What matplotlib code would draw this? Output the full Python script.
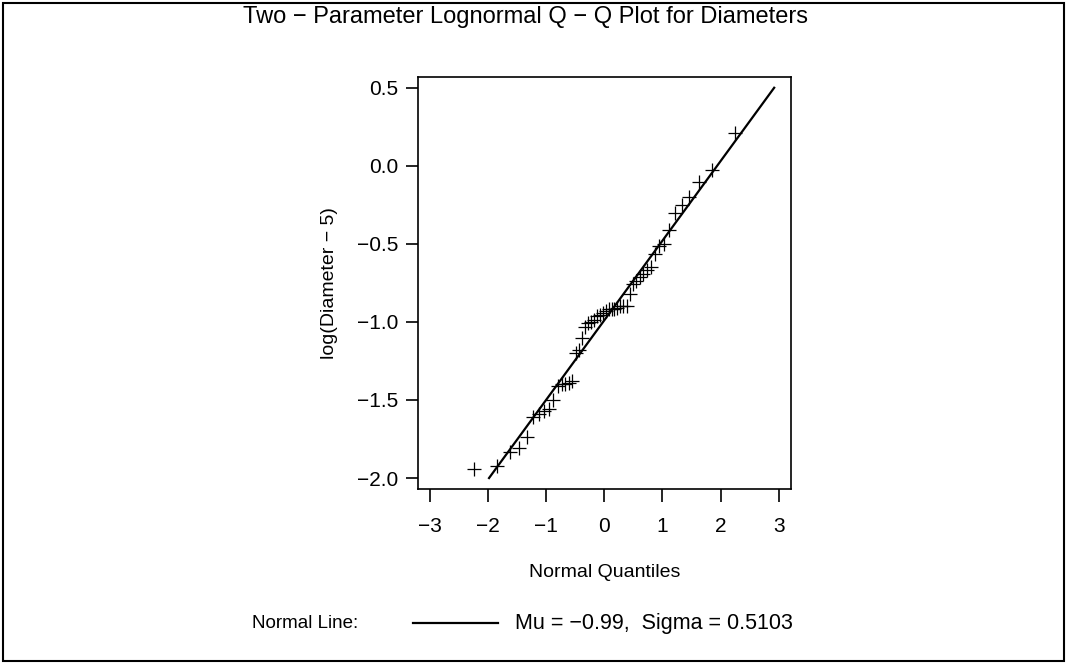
"""Two-parameter lognormal Q-Q plot for diameters."""

import matplotlib

matplotlib.use("Agg")
import matplotlib.pyplot as plt
from matplotlib.patches import Rectangle

plt.rcParams["font.family"] = ["Liberation Sans", "DejaVu Sans"]

# normal quantiles (n = 50) and sorted log(Diameter - 5)
quantiles = [
    -2.240, -1.848, -1.624, -1.460, -1.328, -1.216, -1.118, -1.030, -0.948, -0.872,
    -0.802, -0.734, -0.670, -0.609, -0.550, -0.493, -0.437, -0.383, -0.330, -0.278,
    -0.227, -0.176, -0.125, -0.075, -0.025, 0.025, 0.075, 0.125, 0.176, 0.227,
    0.278, 0.330, 0.383, 0.437, 0.493, 0.550, 0.609, 0.670, 0.734, 0.802,
    0.872, 0.948, 1.030, 1.118, 1.216, 1.328, 1.460, 1.624, 1.848, 2.240,
]
log_diam = [
    -1.94, -1.92, -1.83, -1.81, -1.735, -1.61, -1.59, -1.57, -1.56, -1.50,
    -1.41, -1.40, -1.395, -1.39, -1.38, -1.20, -1.18, -1.105, -1.03, -1.01,
    -1.00, -0.99, -0.965, -0.955, -0.94, -0.93, -0.92, -0.92, -0.915, -0.91,
    -0.90, -0.90, -0.895, -0.82, -0.76, -0.74, -0.71, -0.69, -0.665, -0.65,
    -0.565, -0.515, -0.50, -0.41, -0.305, -0.25, -0.20, -0.105, -0.028, 0.21,
]

mu = -0.99
sigma = 0.5103
line_y = [-2.0, 0.5]

x_ticks = [-3, -2, -1, 0, 1, 2, 3]
x_labels = ["\u22123", "\u22122", "\u22121", "0", "1", "2", "3"]
y_ticks = [0.5, 0.0, -0.5, -1.0, -1.5, -2.0]
y_labels = ["0.5", "0.0", "\u22120.5", "\u22121.0", "\u22121.5", "\u22122.0"]

fig = plt.figure(figsize=(10.69, 6.68), dpi=100)
ax = fig.add_axes([0.391, 0.268, 0.349, 0.617])

line_x = [(v - mu) / sigma for v in line_y]
ax.plot(line_x, line_y, color="black", linewidth=1.6)
ax.plot(quantiles, log_diam, linestyle="none", marker="+", markersize=10,
        markeredgewidth=0.9, color="black")

ax.set_xlim(-3.2, 3.21)
ax.set_ylim(-2.07, 0.57)
ax.set_xticks(x_ticks)
ax.set_xticklabels(x_labels)
ax.set_yticks(y_ticks)
ax.set_yticklabels(y_labels)
ax.tick_params(direction="out", length=9, width=1.2, labelsize=15, colors="black")
ax.tick_params(axis="x", pad=11)
ax.tick_params(axis="y", pad=5)
for s in ax.spines.values():
    s.set_linewidth(1.2)

ax.set_xlabel("Normal Quantiles", fontsize=14, labelpad=20)
ax.set_ylabel("log(Diameter \u2212 5)", fontsize=14, labelpad=14)

fig.text(0.492, 0.974, "Two \u2212 Parameter Lognormal Q \u2212 Q Plot for Diameters",
         ha="center", va="center", fontsize=17)

# legend row below the axes
fig.text(0.236, 0.066, "Normal Line:", ha="left", va="center", fontsize=13.5)
fig.add_artist(plt.Line2D([0.386, 0.466], [0.068, 0.068], color="black", linewidth=1.6))
fig.text(0.482, 0.066, "Mu = \u22120.99,  Sigma = 0.5103", ha="left", va="center",
         fontsize=15.5)

fig.add_artist(Rectangle((0.003, 0.01), 0.992, 0.985, transform=fig.transFigure,
                         fill=False, edgecolor="black", linewidth=1.5))

fig.savefig("out.png", dpi=100)
